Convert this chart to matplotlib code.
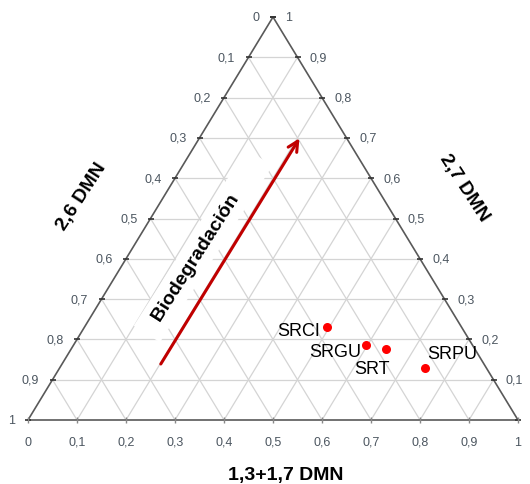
import numpy as np
import matplotlib.pyplot as plt

plt.rcParams['font.family'] = ['Liberation Sans', 'DejaVu Sans']

# samples, read on the 1,3+1,7 DMN axis (bottom) and the 2,7 DMN axis (right)
samples = ['SRCI', 'SRGU', 'SRT', 'SRPU']
dmn_13_17 = [0.61, 0.69, 0.73, 0.81]
dmn_27 = [0.23, 0.185, 0.175, 0.13]

ticks = np.round(np.arange(0, 1.01, 0.1), 1)


def fmt(v):
    if v == 0:
        return '0'
    if v == 1:
        return '1'
    return f'{v:.1f}'.replace('.', ',')


# label placement for each sample (offset in points, alignment)
label_pos = {
    'SRCI': ((-5, -2), 'right'),
    'SRGU': ((-3.5, -4.5), 'right'),
    'SRT': ((-10, -13.5), 'center'),
    'SRPU': ((1.5, 10), 'left'),
}

grid_col = '#d4d4d4'
axis_col = '#595959'
tick_col = '#4c5660'

fig = plt.figure(figsize=(5.3, 4.85), dpi=100)
ax = fig.add_axes([28 / 530, 64 / 485, 490 / 530, 403 / 485])
ax.set_xlim(0, 1)
ax.set_ylim(0, 1)
ax.axis('off')

# grid: horizontal lines plus lines parallel to both sides
for t in ticks[1:-1]:
    ax.plot([t / 2, 1 - t / 2], [t, t], color=grid_col, lw=0.9, zorder=1)
    ax.plot([t, (1 + t) / 2], [0, 1 - t], color=grid_col, lw=0.9, zorder=1)
    ax.plot([t, t / 2], [0, t], color=grid_col, lw=0.9, zorder=1)

# triangle outline
ax.plot([0, 0.5, 1, 0], [0, 1, 0, 0], color=axis_col, lw=1.2, zorder=2, clip_on=False)

# tick marks
ax.plot(ticks / 2, ticks, ls='none', marker='_', ms=5, mew=1.2, color='#333333', clip_on=False, zorder=2)
ax.plot(1 - ticks / 2, ticks, ls='none', marker='_', ms=5, mew=1.2, color='#333333', clip_on=False, zorder=2)
ax.plot(ticks, np.zeros_like(ticks), ls='none', marker='|', ms=4, mew=1, color='#888888', clip_on=False, zorder=2)

# tick labels
for v in ticks:
    h = 1 - v
    ax.annotate(fmt(v), (h / 2, h), xytext=(-9.5, 0), textcoords='offset points',
                ha='right', va='center', fontsize=9, color=tick_col)
for v in ticks[1:]:
    ax.annotate(fmt(v), (1 - v / 2, v), xytext=(9, 0), textcoords='offset points',
                ha='left', va='center', fontsize=9, color=tick_col)
for v in ticks:
    ax.annotate(fmt(v), (v, 0), xytext=(0, -15.5), textcoords='offset points',
                ha='center', va='center', fontsize=9, color=tick_col)

# axis titles
fig.text(81.7 / 530, 1 - 196.7 / 485, '2,6 DMN', rotation=57, ha='center', va='center',
         fontsize=14, fontweight='bold')
fig.text(464 / 530, 1 - 188 / 485, '2,7 DMN', rotation=-57, ha='center', va='center',
         fontsize=14, fontweight='bold')
fig.text(286 / 530, 1 - 476 / 485, '1,3+1,7 DMN', ha='center', va='center',
         fontsize=14, fontweight='bold')

# biodegradation trend
ax.text(0.258, 0.222, '  Biodegradación       ', rotation=57.5, rotation_mode='anchor',
        ha='left', va='baseline', fontsize=14, fontweight='bold', zorder=3,
        bbox=dict(facecolor='white', edgecolor='none', pad=5))
ax.annotate('', xy=(0.554, 0.699), xytext=(0.271, 0.139),
            arrowprops=dict(arrowstyle='->', color='#c00000', lw=2.2,
                            mutation_scale=18, shrinkA=0, shrinkB=0), zorder=4)

# samples
ax.plot(dmn_13_17, dmn_27, ls='none', marker='o', ms=6.5, color='#ff0000', mec='none', zorder=5)
for name, x, y in zip(samples, dmn_13_17, dmn_27):
    off, ha = label_pos[name]
    ax.annotate(name, (x, y), xytext=off, textcoords='offset points',
                ha=ha, va='center', fontsize=13, zorder=5)

fig.savefig('out.png', dpi=100)
